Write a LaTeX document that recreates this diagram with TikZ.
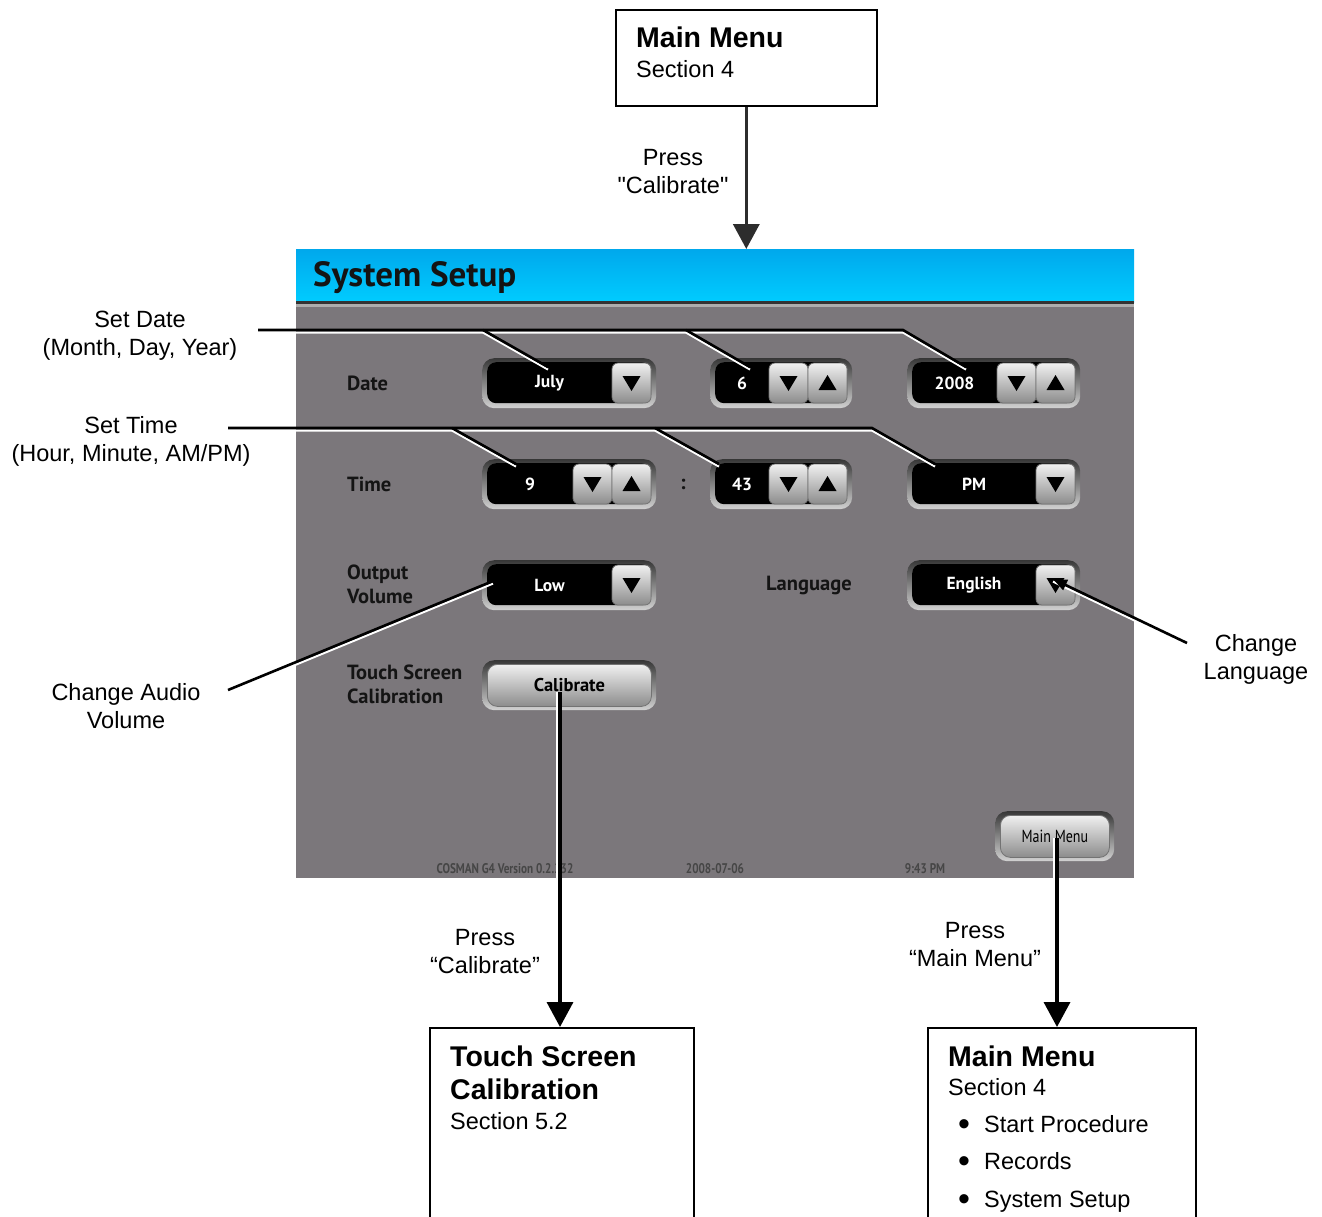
\documentclass[tikz,border=0pt]{standalone}
\usepackage{fontspec}
\setmainfont{Liberation Sans}[Ligatures=TeXOff]
\newfontfamily\scrfont{PT Sans}
\newfontfamily\scrnarrow[FakeStretch=0.8]{PT Sans}
\usetikzlibrary{arrows.meta}

\definecolor{scrgray}{RGB}{123,119,123}
\definecolor{hdrtop}{RGB}{0,168,236}
\definecolor{hdrbot}{RGB}{0,204,255}
\definecolor{rimtop}{RGB}{55,55,55}
\definecolor{rimbot}{RGB}{210,210,210}
\definecolor{btntop}{RGB}{240,240,240}
\definecolor{btnbot}{RGB}{140,140,140}
\definecolor{arrowgray}{RGB}{45,45,45}
\definecolor{labelink}{RGB}{20,20,20}
\definecolor{footink}{RGB}{70,70,70}

% arrow button of a selector: left x, widget top y, 1 = down / -1 = up
\newcommand{\spinbtn}[3]{%
  \pgfmathsetmacro{\bcx}{#1+19.5}
  \pgfmathsetmacro{\bcy}{#2+25}
  \pgfmathsetmacro{\tribase}{\bcy-7*#3}
  \pgfmathsetmacro{\tritip}{\bcy+8*#3}
  \draw[btnface] (#1,#2+5) rectangle (#1+39,#2+45);
  \fill (\bcx-9,\tribase) -- (\bcx+9,\tribase) -- (\bcx,\tritip) -- cycle;
}

% selector widget on the screen: name, x, y, width, buttons, value
\newcommand{\uibox}[6]{%
  \pgfmathsetmacro{\wellw}{#4-10}
  \pgfmathsetmacro{\bxr}{#2+#4-5}
  \pgfmathsetmacro{\bxl}{\bxr-39*#5}
  \pgfmathsetmacro{\bxm}{\bxl+39}
  \pgfmathsetmacro{\txtx}{0.5*(#2+5+\bxl)}
  \node[rim, minimum width=#4, anchor=north west] (#1) at (#2,#3) {};
  \node[well, minimum width=\wellw, anchor=north west] (#1well) at (#2+5,#3+4) {};
  \node[wtxt] (#1txt) at (\txtx,#3+25) {#6};
  \spinbtn{\bxl}{#3}{1}
  \ifnum#5=2\relax \spinbtn{\bxm}{#3}{-1}\fi
}

% leader line with its white edge
\newcommand{\leader}[1]{%
  \draw[leadhl] #1;
  \draw[lead] #1;
}

\begin{document}
\begin{tikzpicture}[
    x=1pt, y=-1pt,
    >={Triangle[width=26pt,length=25pt]},
    box/.style={draw=black, line width=1.6pt, fill=white, inner sep=0pt},
    flow/.style={->, line width=3.6pt, draw=arrowgray},
    lbl/.style={align=center, inner sep=0pt, font=\fontsize{23.5}{28}\selectfont},
    hdtxt/.style={inner sep=0pt, font=\bfseries\fontsize{28.5}{33}\selectfont},
    bodytxt/.style={inner sep=0pt, font=\fontsize{23.5}{28}\selectfont},
    rim/.style={rounded corners=12pt, minimum height=50pt, inner sep=0pt, top color=rimtop, bottom color=rimbot, draw=none},
    well/.style={rounded corners=9pt, minimum height=41pt, inner sep=0pt, fill=black},
    wtxt/.style={inner sep=0pt, text=white, font=\scrfont\bfseries\fontsize{17.5}{20}\selectfont},
    btnface/.style={top color=btntop, bottom color=btnbot, draw=black!55, line width=0.8pt, rounded corners=6pt},
    scrlbl/.style={anchor=west, align=left, inner sep=0pt, text=labelink, font=\scrfont\bfseries\fontsize{20.5}{24}\selectfont},
    foot/.style={inner sep=0pt, text=footink, font=\scrnarrow\bfseries\fontsize{14}{16}\selectfont},
    lead/.style={line width=2.6pt, black},
    leadhl/.style={line width=2pt, white, transform canvas={yshift=-2.6pt}},
    leadhlv/.style={line width=2pt, white, transform canvas={xshift=-2.6pt}}
]
\useasboundingbox (0,0) rectangle (1322,1216);

% Screen
\node[fill=scrgray, inner sep=0pt, minimum width=838pt, minimum height=629pt, anchor=north west] (screen) at (296,249) {};
\shade[top color=hdrtop, bottom color=hdrbot] (296,249) rectangle (1134,302);
\fill[black!80] (296,301) rectangle (1134,304);
\fill[black!32] (296,304) rectangle (1134,307);
\node[anchor=base west, inner sep=0pt, text=labelink, font=\scrfont\bfseries\fontsize{35}{38}\selectfont] (title) at (313,286) {System Setup};

% Screen labels
\node[scrlbl] (datelbl) at (347,383) {Date};
\node[scrlbl] (timelbl) at (347,484) {Time};
\node[scrlbl] (vollbl) at (347,584) {Output\\Volume};
\node[scrlbl] (callbl) at (347,684) {Touch Screen\\Calibration};
\node[scrlbl] (langlbl) at (766,585) {Language};
\node[scrlbl] (colon) at (680,484) {:};

% Selectors
\uibox{datem}{482}{358}{174}{1}{July}
\uibox{dated}{710}{358}{142}{2}{6}
\uibox{datey}{907}{358}{173}{2}{2008}
\uibox{timeh}{482}{459}{174}{2}{9}
\uibox{timem}{710}{459}{142}{2}{43}
\uibox{timeap}{907}{459}{173}{1}{PM}
\uibox{vol}{482}{560}{174}{1}{Low}
\uibox{lang}{907}{560}{173}{1}{English}

% Buttons
\node[rim, minimum width=174pt, anchor=north west] (calrim) at (482,660) {};
\node[btnface, rounded corners=10pt, minimum width=164pt, minimum height=42pt, inner sep=0pt, anchor=north west,
      font=\scrfont\bfseries\fontsize{18.5}{20}\selectfont] (calbtn) at (487,664) {Calibrate};
\node[rim, minimum width=119pt, anchor=north west] (mmrim) at (995,811) {};
\node[btnface, rounded corners=10pt, minimum width=109pt, minimum height=42pt, inner sep=0pt, anchor=north west,
      font=\scrnarrow\fontsize{17.5}{20}\selectfont] (mmbtn) at (1000,815) {Main Menu};

% Footer
\node[foot] (version) at (505,869) {COSMAN G4 Version 0.2.232};
\node[foot] (today) at (715,869) {2008-07-06};
\node[foot] (clock) at (925,869) {9:43 PM};

% Callout labels
\node[lbl] (setdate) at (140,336) {Set Date\\(Month, Day, Year)};
\node[lbl] (settime) at (131,441) {Set Time\\(Hour, Minute, AM/PM)};
\node[lbl] (chaudio) at (126,706) {Change Audio\\Volume};
\node[lbl] (chlang) at (1256,659) {Change\\Language};

% Leader lines
\coordinate (sdfrom) at (258,330);
\coordinate (sdk1) at (483,330);
\coordinate (sdk2) at (686,330);
\coordinate (sdk3) at (903,330);
\coordinate (sdtip1) at (548,367);
\coordinate (sdtip2) at (750,367);
\coordinate (sdtip3) at (966,367);
\leader{(sdfrom) -- (sdk3) -- (sdtip3)}
\leader{(sdk1) -- (sdtip1)}
\leader{(sdk2) -- (sdtip2)}

\coordinate (stfrom) at (228,428);
\coordinate (stk1) at (452,428);
\coordinate (stk2) at (655,428);
\coordinate (stk3) at (872,428);
\coordinate (sttip1) at (516,464);
\coordinate (sttip2) at (719,464);
\coordinate (sttip3) at (935,464);
\leader{(stfrom) -- (stk3) -- (sttip3)}
\leader{(stk1) -- (sttip1)}
\leader{(stk2) -- (sttip2)}

\coordinate (avfrom) at (228,690);
\coordinate (avtip) at (493,581);
\leader{(avfrom) -- (avtip)}

\coordinate (clfrom) at (1187,643);
\coordinate (cltip) at (1053,579);
\draw[leadhl] (clfrom) -- (cltip);
\draw[lead, -{Triangle[width=11pt,length=14pt]}] (clfrom) -- (cltip);

% Top box and flow arrows
\node[box, minimum width=261pt, minimum height=96pt, anchor=north west] (mmtop) at (615,9) {};
\node[hdtxt, anchor=base west] (mmtoptitle) at (636,47) {Main Menu};
\node[bodytxt, anchor=base west] (mmtopsec) at (636,77) {Section 4};
\draw[flow] (mmtop.south) -- (mmtop.south |- screen.north);
\node[lbl] (press1) at (673,172) {Press\\"Calibrate"};

\node[box, minimum width=264pt, minimum height=230pt, anchor=north west] (tsc) at (429,1027) {};
\node[hdtxt, anchor=base west] (tsctitle1) at (450,1066) {Touch Screen};
\node[hdtxt, anchor=base west] (tsctitle2) at (450,1099) {Calibration};
\node[bodytxt, anchor=base west] (tscsec) at (450,1129) {Section 5.2};

\node[box, minimum width=268pt, minimum height=230pt, anchor=north west] (mmbot) at (927,1027) {};
\node[hdtxt, anchor=base west] (mmbottitle) at (948,1066) {Main Menu};
\node[bodytxt, anchor=base west] (mmbotsec) at (948,1095) {Section 4};
\foreach \entry [count=\i, evaluate=\i as \yy using 1132+37.5*(\i-1)] in {Start Procedure, Records, System Setup} {
  \node[inner sep=0pt, anchor=base, font=\fontsize{34}{34}\selectfont] (mmdot\i) at (964,\yy+3) {•};
  \node[bodytxt, anchor=base west] (mmitem\i) at (984,\yy) {\entry};
}

\coordinate (calsrc) at (560,692);
\draw[leadhlv] (calsrc) -- (560,878);
\draw[flow, draw=black] (calsrc) -- (calsrc |- tsc.north);
\node[lbl] (press2) at (485,952) {Press\\“Calibrate”};

\coordinate (mmsrc) at (1057,838);
\draw[leadhlv] (mmsrc) -- (1057,878);
\draw[flow, draw=black] (mmsrc) -- (mmsrc |- mmbot.north);
\node[lbl] (press3) at (975,945) {Press\\“Main Menu”};

\end{tikzpicture}
\end{document}
